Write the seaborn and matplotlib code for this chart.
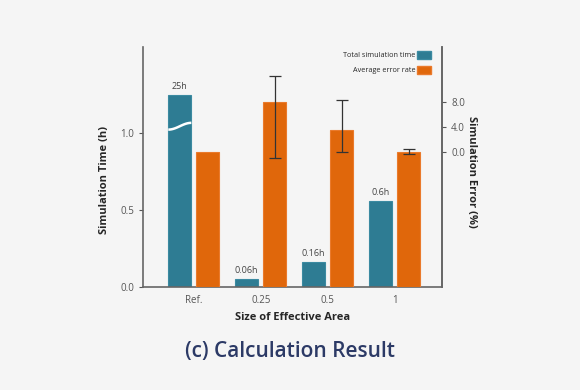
import numpy as np
import pandas as pd
import seaborn as sns
import matplotlib.pyplot as plt
from matplotlib.patches import Patch

# data
areas = ["Ref.", "0.25", "0.5", "1"]
sim_time = [1.25, 0.05, 0.16, 0.56]          # drawn heights (Ref. bar is broken)
time_labels = ["25h", "0.06h", "0.16h", "0.6h"]
err_rate = [0.0, 8.0, 3.5, 0.0]
err_min = [np.nan, -1.0, 0.0, -0.3]
err_max = [np.nan, 12.2, 8.3, 0.5]

series = ["Total simulation time", "Average error rate"]
teal = "#2e7c93"
orange = "#e0670b"
pal = {series[0]: teal, series[1]: orange}

df_time = pd.DataFrame({"area": areas, "value": sim_time, "series": series[0]})
df_err = pd.DataFrame({"area": areas, "value": err_rate, "series": series[1]})

sns.set_theme(style="white")
plt.rcParams["font.family"] = ["Open Sans", "DejaVu Sans"]
bg = "#f5f5f5"

fig = plt.figure(figsize=(5.8, 3.9), dpi=100, facecolor=bg)
ax = fig.add_axes([0.2466, 0.2641, 0.5155, 0.6154])
ax.set_facecolor(bg)
ax2 = ax.twinx()

sns.barplot(data=df_time, x="area", y="value", hue="series", hue_order=series,
            palette=pal, width=0.84, gap=0.18, dodge=True, saturation=1,
            legend=False, ax=ax, edgecolor="#3b8aa1", linewidth=0.8)
sns.barplot(data=df_err, x="area", y="value", hue="series", hue_order=series,
            palette=pal, width=0.84, gap=0.18, dodge=True, saturation=1,
            legend=False, ax=ax2, edgecolor="#ea7a2c", linewidth=0.8)

ax.set_xlim(-0.76, 3.71)
ax.set_ylim(0, 1.56)
ax.set_yticks([0, 0.5, 1.0])
ax.set_yticklabels(["0.0", "0.5", "1.0"])
ax2.set_ylim(-21.6, 16.8)
ax2.set_yticks([0, 4, 8])
ax2.set_yticklabels(["0.0", "4.0", "8.0"])

# orange bars start at the bottom of the right axis
lo = ax2.get_ylim()[0]
for p in ax2.patches:
    top = p.get_y() + p.get_height()
    p.set_y(lo)
    p.set_height(top - lo)

# error bars on the error-rate bars
centers = [p.get_x() + p.get_width() / 2 for p in ax2.patches]
vals = np.array(err_rate)
yerr = [vals - np.array(err_min), np.array(err_max) - vals]
ax2.errorbar(centers, vals, yerr=yerr, fmt="none", ecolor="#333333",
             elinewidth=0.9, capsize=4, capthick=0.9)

# value labels above the time bars
tpatches = ax.patches
for p, lab in zip(tpatches, time_labels):
    ax.annotate(lab, (p.get_x() + p.get_width() / 2, p.get_y() + p.get_height()),
                xytext=(0, 3), textcoords="offset points", ha="center", va="bottom",
                fontsize=6.5, color="#444444")

# axis break mark on the Ref. bar
p0 = tpatches[0]
t = np.linspace(0, 1, 50)
ax.plot(p0.get_x() + t * p0.get_width(), 1.045 + 0.022 * np.sin(np.pi * (t - 0.5)),
        color="white", lw=1.8, solid_capstyle="butt")

for a in (ax, ax2):
    a.spines["top"].set_visible(False)
    for s in ("left", "right", "bottom"):
        a.spines[s].set_color("#666666")
        a.spines[s].set_linewidth(1.2)
    a.tick_params(axis="both", labelsize=7, colors="#555555", length=3, width=0.8)
ax.tick_params(axis="x", length=0, pad=6)
ax2.spines["left"].set_visible(False)
ax2.spines["bottom"].set_visible(False)

ax.set_xlabel("Size of Effective Area", fontsize=8, fontweight="bold", labelpad=4)
ax.set_ylabel("Simulation Time (h)", fontsize=8, fontweight="bold")
ax.yaxis.set_label_coords(-0.11, 0.445)
ax2.set_ylabel("Simulation Error (%)", fontsize=8, fontweight="bold", rotation=270,
               va="center")
ax2.yaxis.set_label_coords(1.10, 0.48)

handles = [Patch(facecolor=teal, edgecolor="#3b8aa1"),
           Patch(facecolor=orange, edgecolor="#ea7a2c")]
ax2.legend(handles, series, loc="upper right", bbox_to_anchor=(0.975, 1.0),
           frameon=False, markerfirst=False, fontsize=5.2, handlelength=1.9,
           handleheight=1.4, labelspacing=0.9, handletextpad=0.2, borderaxespad=0.1)

fig.text(0.5, 0.10, "(c) Calculation Result", ha="center", va="center",
         fontsize=15, fontweight="semibold", color="#2c3a66")

plt.savefig("out.png", dpi=100, facecolor=bg)
